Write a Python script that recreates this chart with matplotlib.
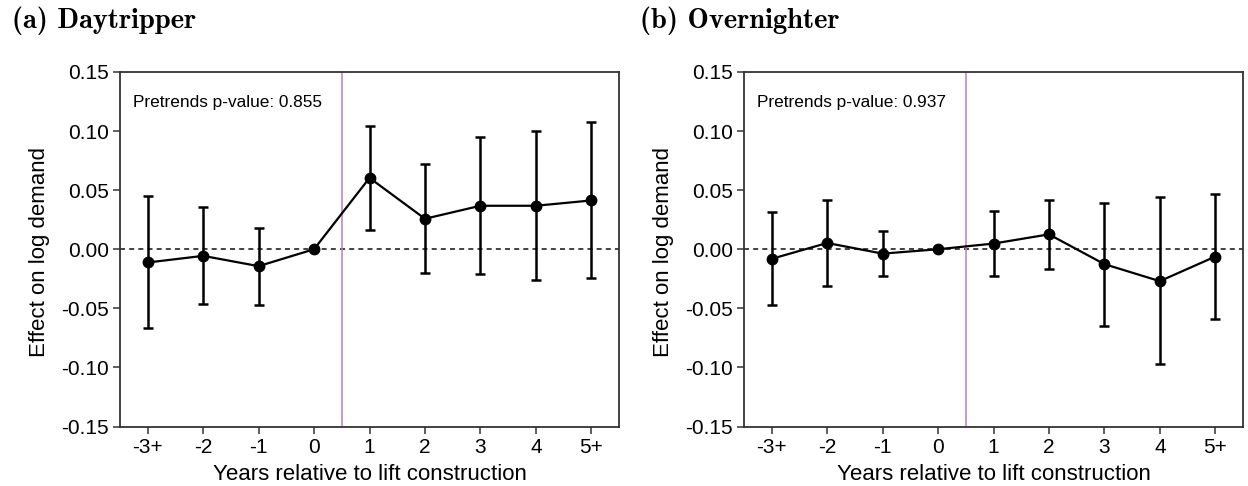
import matplotlib
matplotlib.use("Agg")
import matplotlib.pyplot as plt
from matplotlib.font_manager import FontProperties
import numpy as np
import os

plt.rcParams['font.family'] = ['Liberation Sans', 'DejaVu Sans']
plt.rcParams['mathtext.fontset'] = 'cm'

tick_labels = ["-3+", "-2", "-1", "0", "1", "2", "3", "4", "5+"]

day_est = [-0.0112, -0.0056, -0.0143, 0.0, 0.0604, 0.0258, 0.0368, 0.0368, 0.0413]
day_hi = [0.0447, 0.0357, 0.0183, 0.0, 0.1042, 0.0725, 0.0952, 0.1003, 0.1073]
day_lo = [-0.0663, -0.0466, -0.0472, 0.0, 0.0166, -0.0205, -0.0213, -0.0261, -0.0244]
day_p = "0.855"

ovn_est = [-0.0081, 0.0053, -0.0037, 0.0, 0.0048, 0.0126, -0.0126, -0.0270, -0.0062]
ovn_hi = [0.0312, 0.0419, 0.0152, 0.0, 0.0323, 0.0419, 0.0390, 0.0438, 0.0469]
ovn_lo = [-0.0475, -0.0315, -0.0228, 0.0, -0.0228, -0.0169, -0.0646, -0.0975, -0.0593]
ovn_p = "0.937"

cmb_path = os.path.join(matplotlib.get_data_path(), "fonts", "ttf", "cmb10.ttf")
if os.path.exists(cmb_path):
    title_fp = FontProperties(fname=cmb_path, size=20.5)
else:
    title_fp = FontProperties(family="DejaVu Serif", weight="bold", size=18)

W, H = 1248, 486
fig = plt.figure(figsize=(W / 100, H / 100), dpi=100)

panels = [
    (120, 619, day_est, day_lo, day_hi, day_p, "(a) Daytripper", 12),
    (744, 1243, ovn_est, ovn_lo, ovn_hi, ovn_p, "(b) Overnighter", 640),
]

spine_c = "#333333"
for (x0, x1, est, lo, hi, pval, title, tx) in panels:
    ax = fig.add_axes([x0 / W, 1 - 426.5 / H, (x1 - x0) / W, 354.5 / H])
    x = np.arange(len(tick_labels))
    est = np.array(est); lo = np.array(lo); hi = np.array(hi)
    ax.axhline(0, color="#222222", lw=1.2, ls=(0, (3, 2.5)), zorder=1)
    ax.axvline(3.5, color="#c77cb5", lw=1.1, zorder=1)
    ax.errorbar(x, est, yerr=[est - lo, hi - est], fmt="none", ecolor="black",
                elinewidth=1.8, capsize=3.5, capthick=1.8, zorder=2)
    ax.plot(x, est, color="black", lw=1.6, marker="o", ms=7.5, zorder=3)
    ax.set_xlim(-0.5, 8.5)
    ax.set_ylim(-0.15, 0.15)
    ax.set_xticks(x)
    ax.set_xticklabels(tick_labels)
    yt = [-0.15, -0.10, -0.05, 0.0, 0.05, 0.10, 0.15]
    ax.set_yticks(yt)
    ax.set_yticklabels([f"{v:.2f}" for v in yt])
    ax.tick_params(axis="both", labelsize=15, length=5, width=1.1, color=spine_c, pad=3)
    for s in ax.spines.values():
        s.set_color(spine_c)
        s.set_linewidth(1.3)
    ax.set_xlabel("Years relative to lift construction", fontsize=16)
    ax.xaxis.set_label_coords(0.5, -(474 - 426.5) / 354.5)
    ax.xaxis.label.set_va("center")
    ax.set_ylabel("Effect on log demand", fontsize=16)
    ax.yaxis.set_label_coords(-80 / (x1 - x0), (426.5 - 252) / 354.5)
    ax.yaxis.label.set_va("center")
    ax.text(13 / (x1 - x0), (426.5 - 103) / 354.5, f"Pretrends p-value: {pval}",
            transform=ax.transAxes, fontsize=12.4, va="center", ha="left")
    fig.text(tx / W, 1 - 21 / H, title, fontproperties=title_fp, va="center", ha="left")

fig.savefig("out.png", dpi=100)
